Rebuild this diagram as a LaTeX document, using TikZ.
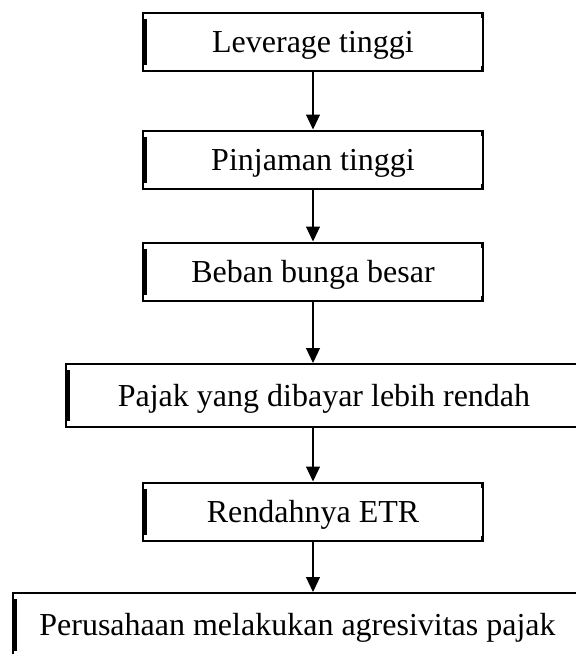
\documentclass[tikz,border=0pt]{standalone}
\usepackage{fontspec}
\setmainfont{Liberation Serif}
\usetikzlibrary{arrows.meta}

\begin{document}
\begin{tikzpicture}[x=1pt,y=-1pt,
		kotak/.style={draw, line width=2pt, minimum height=58pt, text height=21pt, text depth=0pt,
			font=\fontsize{32}{38}\selectfont,
			path picture={
				\draw[line width=4pt] ([xshift=2pt,yshift=-6pt]path picture bounding box.north west) -- ([xshift=2pt,yshift=6pt]path picture bounding box.south west);
				\draw[line width=3pt] ([xshift=-1pt]path picture bounding box.north east) -- ++(0,-5pt);
				\draw[line width=3pt] ([xshift=-1pt]path picture bounding box.south east) -- ++(0,5pt);
			}},
		panah/.style={line width=1.2pt, -{Triangle[width=14pt,length=15pt]}}]
		\useasboundingbox (0,0) rectangle (576,654);
		\node[kotak, minimum width=340pt] (lev) at (313,42) {Leverage tinggi};
		\node[kotak, minimum width=340pt] (pinj) at (313,159.5) {Pinjaman tinggi};
		\node[kotak, minimum width=340pt] (beban) at (313,271.5) {Beban bunga besar};
		\node[kotak, minimum width=516pt, minimum height=63pt] (pajak) at (324,395.5) {Pajak yang dibayar lebih rendah};
		\node[kotak, minimum width=340pt] (etr) at (313,511.5) {Rendahnya ETR};
		\node[kotak, minimum width=569pt, minimum height=64pt] (agr) at (297.5,625) {Perusahaan melakukan agresivitas pajak};
		% panah antar kotak
		\draw[panah] (lev) -- (pinj);
		\draw[panah] (pinj) -- (beban);
		\draw[panah] (beban.south) -- (beban.south |- pajak.north);
		\draw[panah] (etr.north |- pajak.south) -- (etr.north);
		\draw[panah] (etr.south) -- (etr.south |- agr.north);
	\end{tikzpicture}
\end{document}
